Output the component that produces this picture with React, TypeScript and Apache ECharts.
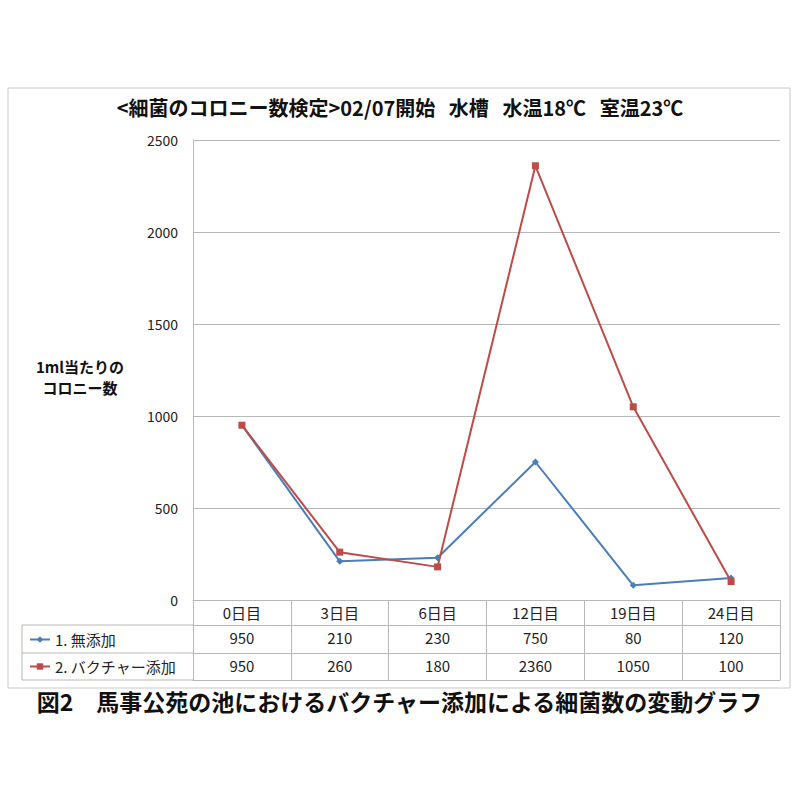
import * as echarts from 'echarts';
import React, { useEffect, useRef } from 'react';

const days = ['0日目', '3日目', '6日目', '12日目', '19日目', '24日目'];
const seriesNames = ['1. 無添加', '2. バクチャー添加'];
const noAdditive = [950, 210, 230, 750, 80, 120];
const withBacter = [950, 260, 180, 2360, 1050, 100];
const yTicks = { min: 0, max: 2500, interval: 500 };

const FONT = '"Noto Sans CJK JP", "Noto Sans", sans-serif';
const GRID = '#b8b8b8';

const App: React.FC = () => {
  const chartRef = useRef<HTMLDivElement>(null);

  useEffect(() => {
    document.body.style.margin = '0';
    const myChart = echarts.init(chartRef.current!, undefined, { renderer: 'svg' });

    const tableAxis = (labels: string[], offset: number, tickLen: number, showLabel = true) => ({
      type: 'category',
      gridIndex: 0,
      position: 'bottom',
      offset,
      data: labels,
      boundaryGap: true,
      axisLine: { show: true, onZero: false, lineStyle: { color: GRID, width: 1 } },
      axisTick: { show: tickLen > 0, interval: 0, length: tickLen, lineStyle: { color: GRID } },
      axisLabel: {
        show: showLabel,
        interval: 0,
        margin: 5,
        fontSize: 15,
        color: '#222',
        fontFamily: FONT,
      },
    });

    const option = {
      animation: false,
      backgroundColor: '#fff',
      textStyle: { fontFamily: FONT },
      title: {
        text: '{b|<細菌のコロニー数検定>}{n|02/07開始   水槽   水温18℃   室温23℃}',
        left: 'center',
        top: 92,
        textStyle: {
          rich: {
            b: { fontSize: 20, fontWeight: 'bold', color: '#111', fontFamily: FONT },
            n: { fontSize: 20, color: '#111', fontFamily: FONT },
          },
        },
      },
      legend: {
        orient: 'vertical',
        left: 24,
        top: 627,
        itemWidth: 20,
        itemHeight: 8,
        itemGap: 12,
        textStyle: { fontSize: 15, color: '#222', fontFamily: FONT },
        data: seriesNames,
      },
      grid: { left: 193, right: 20, top: 140, bottom: 200 },
      xAxis: [
        tableAxis(days, 0, 25),
        tableAxis(noAdditive.map(String), 25, 28),
        tableAxis(withBacter.map(String), 53, 27),
        tableAxis(days, 80, 0, false),
      ],
      yAxis: {
        type: 'value',
        min: yTicks.min,
        max: yTicks.max,
        interval: yTicks.interval,
        axisLine: { show: true, onZero: false, lineStyle: { color: GRID } },
        axisTick: { show: false },
        splitLine: { lineStyle: { color: GRID } },
        axisLabel: {
          margin: 15,
          fontSize: 14,
          color: '#222',
          fontFamily: FONT,
          formatter: (v: number) => String(v),
        },
      },
      graphic: [
        {
          type: 'rect',
          shape: { x: 8, y: 88, width: 782, height: 600 },
          style: { fill: 'none', stroke: '#c8c8c8', lineWidth: 1 },
        },
        {
          type: 'polyline',
          shape: { points: [[193, 625], [22, 625], [22, 680], [193, 680]] },
          style: { fill: 'none', stroke: GRID, lineWidth: 1 },
        },
        {
          type: 'line',
          shape: { x1: 22, y1: 653, x2: 193, y2: 653 },
          style: { stroke: GRID, lineWidth: 1 },
        },
        {
          type: 'text',
          x: 80,
          y: 356,
          style: {
            text: '1ml当たりの\nコロニー数',
            fontSize: 15,
            fontWeight: 'bold',
            lineHeight: 21,
            align: 'center',
            fill: '#111',
            fontFamily: FONT,
          },
        },
        {
          type: 'text',
          left: 'center',
          top: 689,
          style: {
            text: '図2　馬事公苑の池におけるバクチャー添加による細菌数の変動グラフ',
            fontSize: 23,
            fontWeight: 'bold',
            fill: '#111',
            fontFamily: FONT,
          },
        },
      ],
      series: [
        {
          name: seriesNames[0],
          type: 'line',
          xAxisIndex: 0,
          data: noAdditive,
          symbol: 'diamond',
          symbolSize: 7,
          lineStyle: { color: '#4a7ebb', width: 2 },
          itemStyle: { color: '#4a7ebb' },
        },
        {
          name: seriesNames[1],
          type: 'line',
          xAxisIndex: 0,
          data: withBacter,
          symbol: 'rect',
          symbolSize: 7,
          lineStyle: { color: '#be4b48', width: 2 },
          itemStyle: { color: '#be4b48' },
        },
      ],
    };

    myChart.setOption(option);

    return () => {
      myChart.dispose();
    };
  }, []);

  return <div ref={chartRef} style={{ width: '800px', height: '800px' }} />;
};

export default App;
